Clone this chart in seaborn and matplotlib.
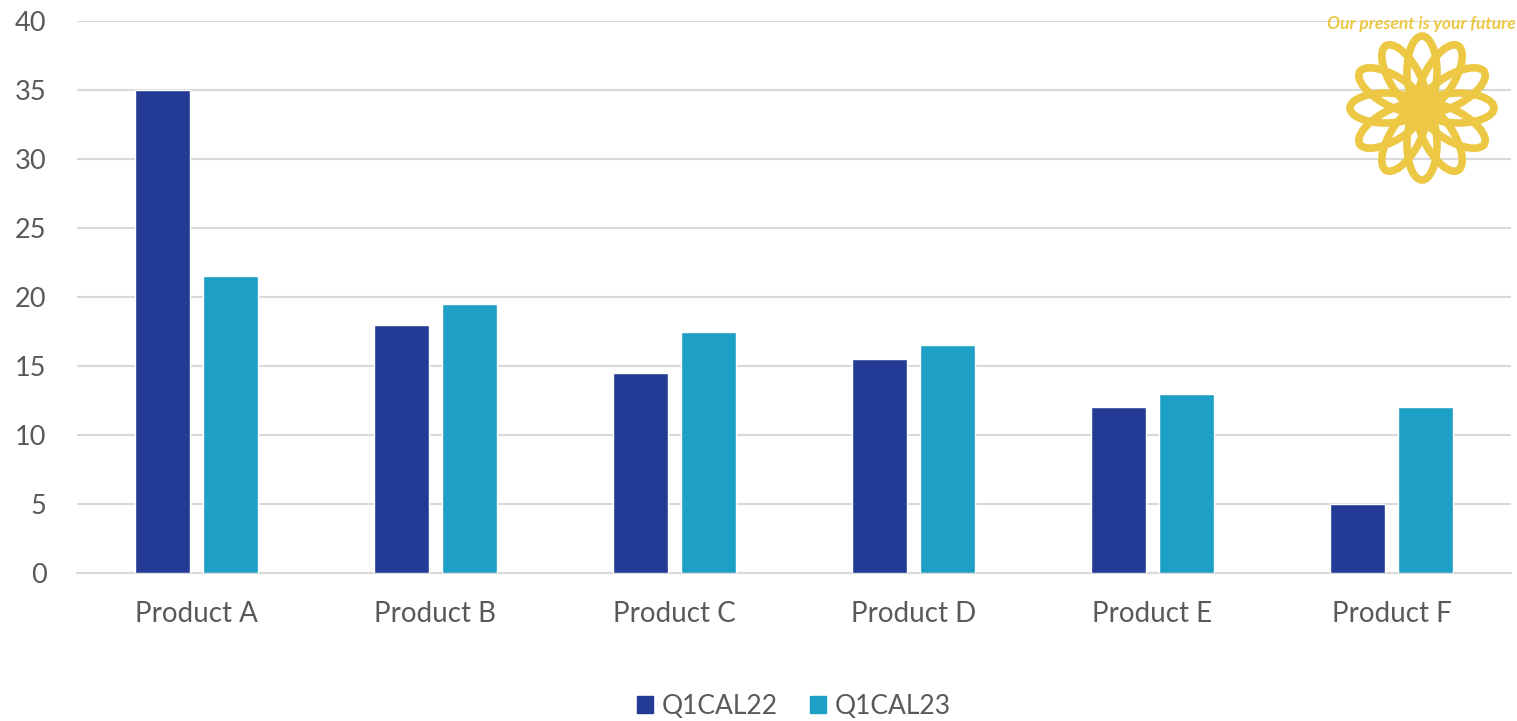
import numpy as np
import pandas as pd
import matplotlib
matplotlib.use("Agg")
import matplotlib.pyplot as plt
from matplotlib.patches import Ellipse, Circle
import seaborn as sns

# --- data ---------------------------------------------------------------
products = ["Product A", "Product B", "Product C", "Product D", "Product E", "Product F"]
q1cal22 = [35, 18, 14.5, 15.5, 12, 5]
q1cal23 = [21.5, 19.5, 17.5, 16.5, 13, 12]
series_names = ["Q1CAL22", "Q1CAL23"]
y_ticks = [0, 5, 10, 15, 20, 25, 30, 35, 40]
tagline = "Our present is your future"

df = pd.DataFrame({
    "product": products * 2,
    "value": q1cal22 + q1cal23,
    "period": [series_names[0]] * len(products) + [series_names[1]] * len(products),
})

# --- style --------------------------------------------------------------
sns.set_theme(style="white")
plt.rcParams["font.family"] = ["Lato", "DejaVu Sans"]

DARK = "#233B94"
LIGHT = "#1E9FC6"
GRID = "#D9D9D9"
TEXT = "#595959"
GOLD = "#ECC844"

W, H = 1517, 721
fig = plt.figure(figsize=(W / 100, H / 100), dpi=100)
ax = fig.add_axes([77 / W, 1 - 573 / H, (1511 - 77) / W, (573 - 21) / H])

sns.barplot(data=df, x="product", y="value", hue="period",
            palette=[DARK, LIGHT], width=0.568, gap=0.2, saturation=1,
            errorbar=None, ax=ax, zorder=3)

ax.set_ylim(0, 40)
ax.set_xlim(-0.5, len(products) - 0.5)
ax.set_yticks(y_ticks)
ax.set_xlabel("")
ax.set_ylabel("")
ax.yaxis.grid(True, color=GRID, linewidth=1.5, zorder=0)
ax.set_axisbelow(True)
for s in ["top", "right", "left"]:
    ax.spines[s].set_visible(False)
ax.spines["bottom"].set_color(GRID)
ax.spines["bottom"].set_linewidth(1.5)
ax.tick_params(axis="y", length=0, pad=22, labelsize=19.5, labelcolor=TEXT)
ax.tick_params(axis="x", length=0, pad=20, labelsize=20, labelcolor=TEXT)

# legend at the bottom
ax.legend_.remove()
handles = [plt.Rectangle((0, 0), 1, 1, color=c) for c in (DARK, LIGHT)]
fig.legend(handles, series_names, loc="center", bbox_to_anchor=(794 / W, 1 - 706 / H),
           ncol=2, frameon=False, fontsize=19, labelcolor=TEXT,
           handlelength=0.6, handleheight=0.6, handletextpad=0.35, columnspacing=1.2)

# --- flower emblem with tagline -----------------------------------------
ov = fig.add_axes([0, 0, 1, 1], zorder=10)
ov.set_xlim(0, W)
ov.set_ylim(H, 0)
ov.axis("off")
ov.patch.set_alpha(0)

cx, cy = 1422, 108
petal_len, petal_w = 72, 30
for k in range(12):
    ang = np.deg2rad(90 + 30 * k)
    px = cx + np.cos(ang) * petal_len / 2
    py = cy - np.sin(ang) * petal_len / 2
    ov.add_patch(Ellipse((px, py), petal_len, petal_w, angle=-np.rad2deg(ang),
                         facecolor="none", edgecolor=GOLD, linewidth=5.5))
ov.add_patch(Circle((cx, cy), 17, facecolor=GOLD, edgecolor="none"))
ov.text(1421, 24, tagline, ha="center", va="center", color=GOLD,
        fontsize=12.5, fontweight="bold", fontstyle="italic")

fig.savefig("out.png", dpi=100)
